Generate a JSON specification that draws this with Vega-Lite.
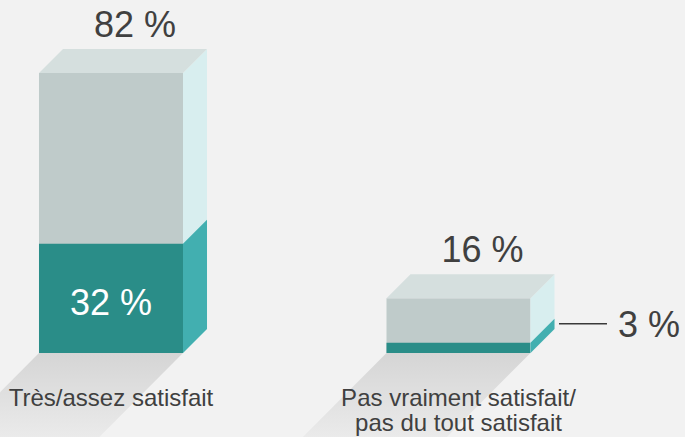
{
  "$schema": "https://vega.github.io/schema/vega-lite/v6.json",
  "width": 685,
  "height": 437,
  "autosize": {"type": "none"},
  "padding": 0,
  "background": "#f2f2f2",
  "config": {"view": {"stroke": null}, "text": {"font": "Liberation Sans"}},
  "data": {
    "values": [
      {"cat": "Très/assez satisfait", "total": 82, "part": 32},
      {"cat": "Pas vraiment satisfait/\npas du tout satisfait", "total": 16, "part": 3}
    ]
  },
  "transform": [{"window": [{"op": "row_number", "as": "i"}]}],
  "encoding": {
    "x": {"field": "px", "type": "quantitative", "scale": {"domain": [0.6806, 2.6518], "nice": false, "zero": false}, "axis": null},
    "y": {"field": "py", "type": "quantitative", "scale": {"domain": [-24.6, 103.37], "nice": false, "zero": false}, "axis": null, "stack": null}
  },
  "layer": [
    {
      "transform": [
        {"calculate": "[0,1,2,3]", "as": "v"},
        {"flatten": ["v"]},
        {"calculate": "datum.i + [-0.5007, -0.2072, -0.0863, 0.2072][datum.v]", "as": "px"},
        {"calculate": "[-30, 0, 0, 0][datum.v]", "as": "py"},
        {"calculate": "[-30, -30, -30, 0][datum.v]", "as": "py2"}
      ],
      "mark": {
        "type": "area",
        "clip": true,
        "color": {
          "gradient": "linear",
          "x1": 0, "y1": 0, "x2": 0, "y2": 1,
          "stops": [
            {"offset": 0, "color": "#d5d5d5"},
            {"offset": 1, "color": "#efefef"}
          ]
        }
      },
      "encoding": {"y2": {"field": "py2"}, "detail": {"field": "cat"}}
    },
    {
      "transform": [
        {"calculate": "datum.i - 0.2072", "as": "px"},
        {"calculate": "datum.i + 0.2072", "as": "px2"},
        {"calculate": "datum.total", "as": "py"}
      ],
      "mark": {"type": "rect", "color": "#bfcbca"},
      "encoding": {"x2": {"field": "px2"}, "y2": {"datum": 0}}
    },
    {
      "transform": [
        {"calculate": "datum.i - 0.2072", "as": "px"},
        {"calculate": "datum.i + 0.2072", "as": "px2"},
        {"calculate": "datum.part", "as": "py"}
      ],
      "mark": {"type": "rect", "color": "#2a8d88"},
      "encoding": {"x2": {"field": "px2"}, "y2": {"datum": 0}}
    },
    {
      "transform": [
        {"calculate": "[0,1]", "as": "v"},
        {"flatten": ["v"]},
        {"calculate": "datum.i + 0.2072 + datum.v * 0.0691", "as": "px"},
        {"calculate": "datum.total + datum.v * 7.03", "as": "py"},
        {"calculate": "datum.v * 7.03", "as": "py2"}
      ],
      "mark": {"type": "area", "color": "#d8eeef"},
      "encoding": {"y2": {"field": "py2"}, "detail": {"field": "cat"}}
    },
    {
      "transform": [
        {"calculate": "[0,1]", "as": "v"},
        {"flatten": ["v"]},
        {"calculate": "datum.i + 0.2072 + datum.v * 0.0691", "as": "px"},
        {"calculate": "datum.part + datum.v * 7.03", "as": "py"},
        {"calculate": "datum.v * 7.03", "as": "py2"}
      ],
      "mark": {"type": "area", "color": "#42afb0"},
      "encoding": {"y2": {"field": "py2"}, "detail": {"field": "cat"}}
    },
    {
      "transform": [
        {"calculate": "[0,1,2,3]", "as": "v"},
        {"flatten": ["v"]},
        {"calculate": "datum.i + [-0.2072, -0.1381, 0.2072, 0.2763][datum.v]", "as": "px"},
        {"calculate": "datum.total + [0, 7.03, 7.03, 7.03][datum.v]", "as": "py"},
        {"calculate": "datum.total + [0, 0, 0, 7.03][datum.v]", "as": "py2"}
      ],
      "mark": {"type": "area", "color": "#d5dfde"},
      "encoding": {"y2": {"field": "py2"}, "detail": {"field": "cat"}}
    },
    {
      "transform": [
        {"filter": "datum.part < 10"},
        {"calculate": "datum.i + 0.2892", "as": "px"},
        {"calculate": "datum.i + 0.4273", "as": "px2"},
        {"calculate": "datum.part / 2 + 7.03", "as": "py"}
      ],
      "mark": {"type": "rule", "color": "#3a3a3a", "strokeWidth": 1.5},
      "encoding": {"x2": {"field": "px2"}}
    },
    {
      "transform": [
        {"calculate": "datum.i + 0.0691", "as": "px"},
        {"calculate": "datum.total + 7.03", "as": "py"},
        {"calculate": "datum.total + ' %'", "as": "label"}
      ],
      "mark": {"type": "text", "fontSize": 36, "color": "#404040", "baseline": "alphabetic", "align": "center", "dy": -12},
      "encoding": {"text": {"field": "label"}}
    },
    {
      "transform": [
        {"filter": "datum.part >= 10"},
        {"calculate": "datum.i", "as": "px"},
        {"calculate": "datum.part / 2", "as": "py"},
        {"calculate": "datum.part + ' %'", "as": "label"}
      ],
      "mark": {"type": "text", "fontSize": 36, "color": "#ffffff", "baseline": "alphabetic", "align": "center", "dy": 17},
      "encoding": {"text": {"field": "label"}}
    },
    {
      "transform": [
        {"filter": "datum.part < 10"},
        {"calculate": "datum.i + 0.4273", "as": "px"},
        {"calculate": "datum.part / 2 + 7.03", "as": "py"},
        {"calculate": "datum.part + ' %'", "as": "label"}
      ],
      "mark": {"type": "text", "fontSize": 36, "color": "#404040", "baseline": "alphabetic", "align": "left", "dx": 11, "dy": 13},
      "encoding": {"text": {"field": "label"}}
    },
    {
      "transform": [
        {"calculate": "datum.i", "as": "px"},
        {"calculate": "0", "as": "py"}
      ],
      "mark": {"type": "text", "fontSize": 24, "color": "#404040", "baseline": "alphabetic", "align": "center", "dy": 53, "lineBreak": "\n", "lineHeight": 25},
      "encoding": {"text": {"field": "cat"}}
    }
  ]
}
